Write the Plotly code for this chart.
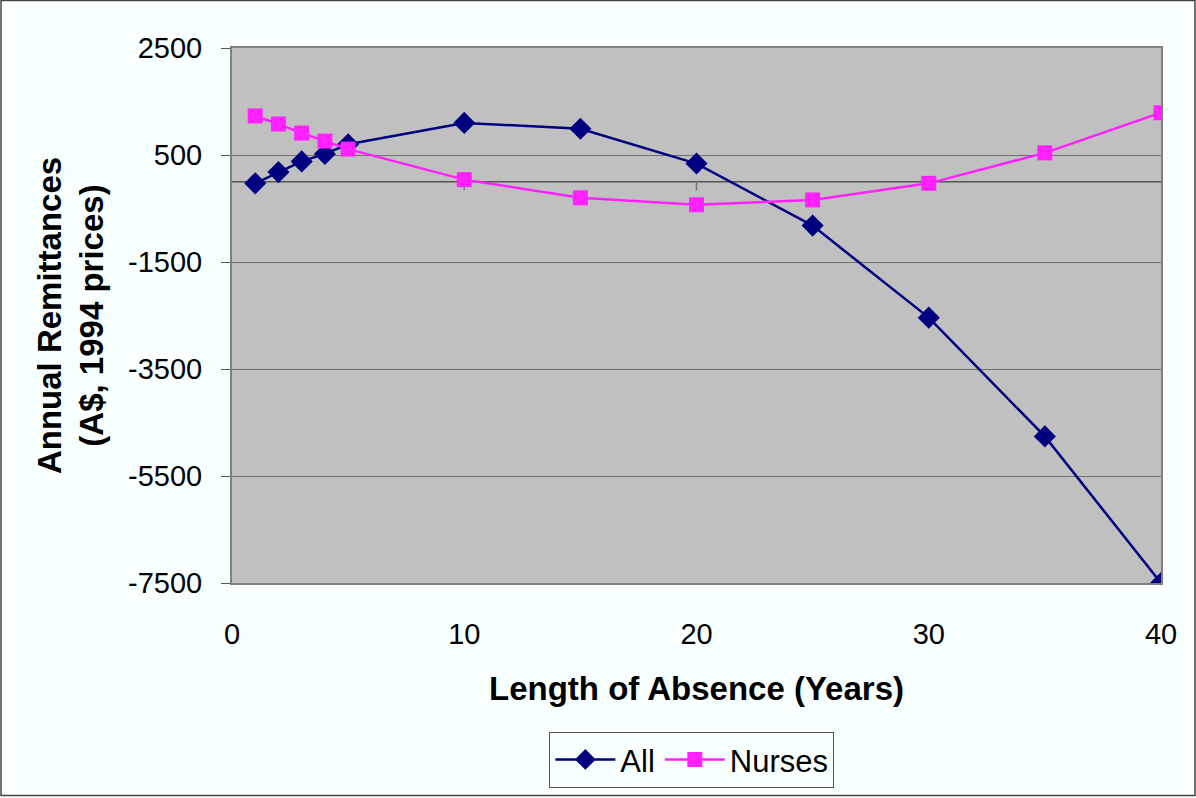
import plotly.graph_objects as go

years = [1, 2, 3, 4, 5, 10, 15, 20, 25, 30, 35, 40]
all_vals = [-30, 180, 380, 520, 700, 1100, 990, 340, -820, -2540, -4760, -7500]
nurses_vals = [1230, 1080, 910, 760, 610, 40, -300, -430, -340, -30, 540, 1290]
y_ticks = [2500, 500, -1500, -3500, -5500, -7500]
y_tick_labels = ["2500", "500", "-1500", "-3500", "-5500", "-7500"]
x_ticks = [0, 10, 20, 30, 40]

FONT = "Arial, Liberation Sans, sans-serif"

fig = go.Figure()
fig.add_trace(go.Scatter(
    x=years, y=all_vals, name="All", mode="lines+markers",
    line=dict(color="#000080", width=2.5),
    marker=dict(symbol="diamond", size=17, color="#000080"),
))
fig.add_trace(go.Scatter(
    x=years, y=nurses_vals, name="Nurses", mode="lines+markers",
    line=dict(color="#FF22FF", width=2.5),
    marker=dict(symbol="square", size=15, color="#FF22FF"),
))

# zero line with tick marks (Excel-style category axis crossing at 0)
shapes = [dict(type="line", xref="x", yref="y", x0=0, x1=40, y0=0, y1=0,
               line=dict(color="#555555", width=1.5), layer="below")]
for t in x_ticks[1:-1]:
    shapes.append(dict(type="line", xref="x", yref="y", x0=t, x1=t, y0=0, y1=-160,
                       line=dict(color="#777777", width=1.5), layer="below"))
# outer figure border
shapes.append(dict(type="rect", xref="paper", yref="paper",
                   x0=-231/929, x1=(1195-232)/929, y0=-(797-584)/536, y1=(583.5)/536,
                   line=dict(color="#444444", width=1.5)))

fig.update_layout(
    width=1196, height=798,
    margin=dict(l=232, r=35, t=48, b=214),
    paper_bgcolor="#F8FFFF",
    plot_bgcolor="#C0C0C0",
    font=dict(family=FONT, size=29, color="black"),
    showlegend=True,
    legend=dict(
        orientation="h", x=0.495, xanchor="center", y=-0.328, yanchor="middle",
        bordercolor="#555555", borderwidth=1, bgcolor="#F8FFFF",
        font=dict(size=31), itemwidth=60,
    ),
    shapes=shapes,
)
fig.update_xaxes(
    range=[0, 40], tickvals=x_ticks, ticks="", showgrid=False, zeroline=False,
    showline=True, linecolor="#808080", linewidth=2, mirror=True,
    tickfont=dict(size=29), ticklabelstandoff=24,
    title=dict(text="<b>Length of Absence (Years)</b>", font=dict(size=33), standoff=28),
)
fig.update_yaxes(
    range=[-7500, 2500], tickvals=y_ticks, ticktext=y_tick_labels,
    ticks="outside", ticklen=9, ticklabelstandoff=13,
    tickcolor="#555555", showgrid=True, gridcolor="#707070", gridwidth=1,
    zeroline=False, showline=True, linecolor="#808080", linewidth=2, mirror=True,
    tickfont=dict(size=29),
    title=dict(text="<b>Annual Remittances<br>(A$, 1994 prices)</b>", font=dict(size=33), standoff=14),
)

fig.write_html("out.html", config={"displayModeBar": False},
               post_script="document.body.style.margin='0';")
